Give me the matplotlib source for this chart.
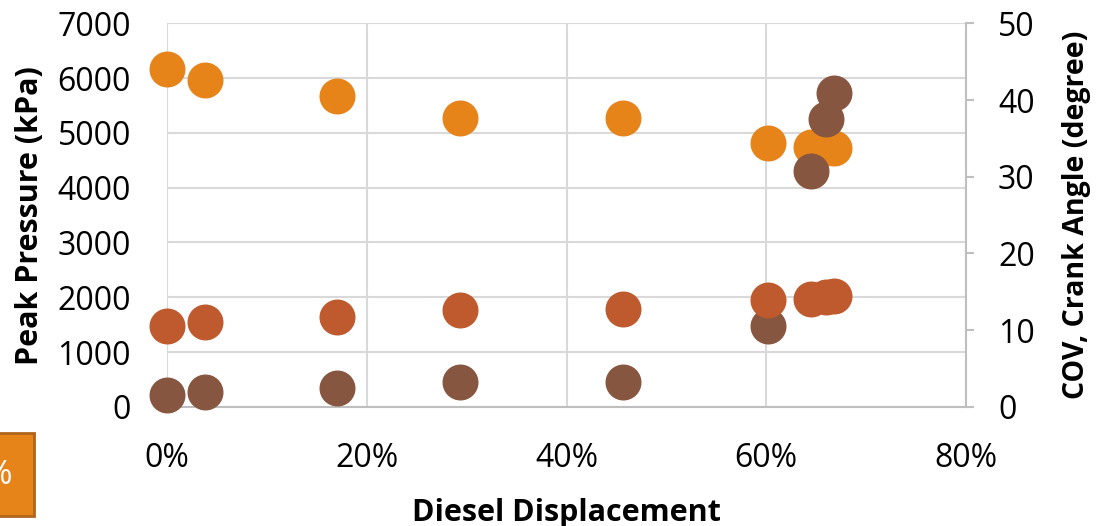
import matplotlib.pyplot as plt
from matplotlib.patches import Rectangle
from matplotlib.ticker import FuncFormatter, MultipleLocator

plt.rcParams["font.family"] = ["Open Sans", "DejaVu Sans"]

# Diesel displacement (fraction) for each test point
displacement = [0.0, 0.038, 0.170, 0.293, 0.457, 0.602, 0.645, 0.660, 0.668]
# Peak pressure (kPa), left axis
peak_pressure = [6160, 5965, 5675, 5270, 5270, 4820, 4745, 4730, 4720]
# COV (degree), right axis
cov = [1.5, 1.95, 2.4, 3.25, 3.2, 10.5, 30.8, 37.5, 40.9]
# Crank angle (degree), right axis
crank_angle = [10.5, 11.0, 11.7, 12.6, 12.7, 13.9, 14.1, 14.3, 14.4]

C_PRES = "#E6841A"
C_COV = "#875640"
C_CA = "#BE5A2D"
GRID = "#D9D9D9"
SPINE = "#BFBFBF"

fig = plt.figure(figsize=(11.01, 5.26), dpi=100)
ax = fig.add_axes([0.1517, 0.2265, 0.7257, 0.7292])
ax2 = ax.twinx()

ax.scatter(displacement, peak_pressure, s=620, color=C_PRES, zorder=3, clip_on=False)
ax2.scatter(displacement, cov, s=620, color=C_COV, zorder=3, clip_on=False)
ax2.scatter(displacement, crank_angle, s=620, color=C_CA, zorder=4, clip_on=False)

ax.set_xlim(0, 0.8)
ax.set_ylim(0, 7000)
ax2.set_ylim(0, 50)
ax.xaxis.set_major_locator(MultipleLocator(0.2))
ax.yaxis.set_major_locator(MultipleLocator(1000))
ax2.yaxis.set_major_locator(MultipleLocator(10))
ax.xaxis.set_major_formatter(FuncFormatter(lambda v, p: f"{v*100:.0f}%"))

ax.grid(True, color=GRID, linewidth=1.5)
ax.set_axisbelow(True)
for a in (ax, ax2):
    for s in ("top", "left"):
        a.spines[s].set_visible(False)
    a.spines["bottom"].set_color(SPINE)
    a.spines["bottom"].set_linewidth(1.5)
    a.spines["right"].set_color(SPINE)
    a.spines["right"].set_linewidth(1.5)
ax.spines["right"].set_visible(False)
ax2.spines["bottom"].set_visible(False)

ax.tick_params(axis="y", length=0, labelsize=23, pad=26)
ax.tick_params(axis="x", length=0, labelsize=23, pad=25)
ax2.tick_params(axis="y", length=6, width=1.5, color=SPINE, labelsize=23, pad=17)

ax.set_xlabel("Diesel Displacement", fontsize=22, fontweight="bold", labelpad=17)
ax.set_ylabel("Peak Pressure (kPa)", fontsize=22, fontweight="bold", labelpad=9)
ax2.set_ylabel("COV, Crank Angle (degree)", fontsize=20.5, fontweight="bold", labelpad=20)

# partially visible orange label box at the bottom-left edge
fig.patches.append(Rectangle((-0.02, 10 / 526), 34 / 1101 + 0.02, 83 / 526,
                             transform=fig.transFigure, facecolor=C_PRES,
                             edgecolor="#B0651C", linewidth=2))
fig.text(-2 / 1101, 50 / 526, "%", color="white", fontsize=24, ha="center", va="center")

fig.savefig("out.png", dpi=100)
